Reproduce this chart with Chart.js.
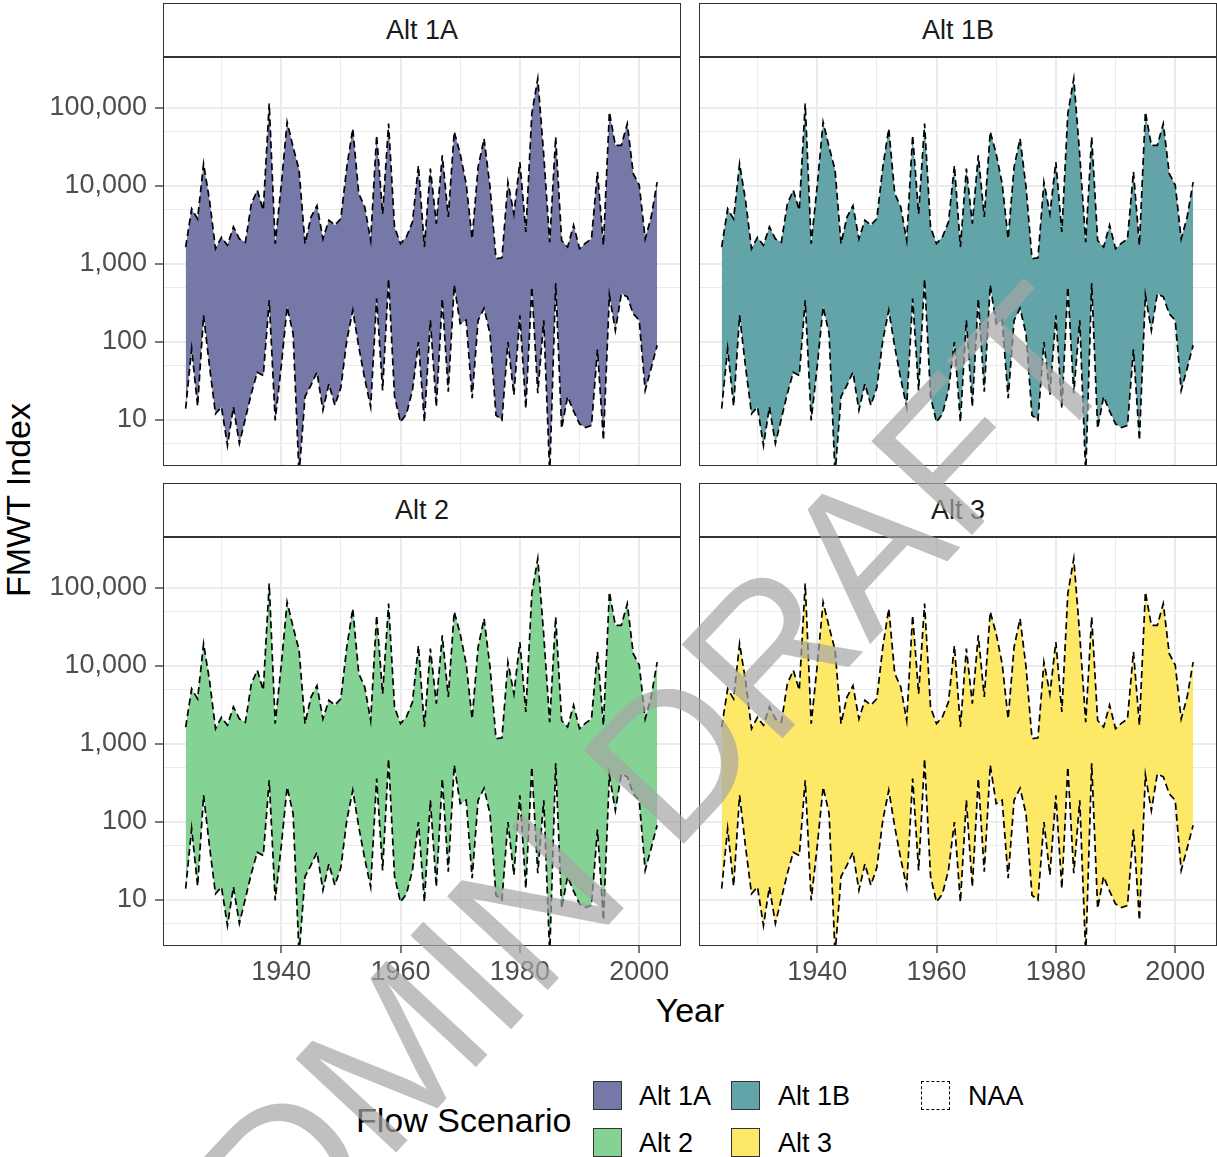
<!DOCTYPE html>
<html lang="en">
<head>
<meta charset="UTF-8">
<title>FMWT Index by Flow Scenario</title>
<script src="https://cdn.jsdelivr.net/npm/chart.js"></script>
<style>
    body {
        margin: 0;
        width: 1217px;
        height: 1157px;
        position: relative;
        overflow: hidden;
        background: white;
        font-family: 'Liberation Sans', Arial, sans-serif;
    }
    canvas { position: absolute; }
    .strip {
        position: absolute;
        box-sizing: border-box;
        width: 518px;
        height: 55px;
        border: 1.3px solid #333;
        border-bottom-width: 2px;
        background: white;
        color: #1a1a1a;
        font-size: 27px;
        line-height: 52px;
        text-align: center;
    }
    .frame {
        position: absolute;
        box-sizing: border-box;
        width: 518px;
        height: 409px;
        border: 1.3px solid #333;
        pointer-events: none;
    }
    .lbl {
        position: absolute;
        white-space: nowrap;
        line-height: 1;
        transform: translateY(-50%);
        color: #000;
    }
    .key {
        position: absolute;
        box-sizing: border-box;
        width: 29px;
        height: 29px;
        border: 1.5px solid #333;
    }
    .watermark {
        position: absolute;
        left: 611px;
        top: 821px;
        transform: translate(-50%, -50%) rotate(-47deg);
        font-size: 200px;
        line-height: 1;
        white-space: nowrap;
        color: rgba(165, 165, 165, 0.7);
        pointer-events: none;
    }
</style>
</head>
<body>

<!-- y axis title, x axis title -->
<div class="lbl" style="font-size:34px; left:18px; top:500px; transform: translate(-50%, -50%) rotate(-90deg);">FMWT Index</div>
<div class="lbl" style="font-size:34px; left:690px; top:1010px; transform: translate(-50%, -50%);">Year</div>

<!-- legend -->
<div class="lbl" style="font-size:34px; left:356px; top:1120px;">Flow Scenario</div>
<div class="key" style="left:593px; top:1081px; background:#7679A8;"></div>
<div class="lbl" style="font-size:27px; left:639px; top:1096px;">Alt 1A</div>
<div class="key" style="left:731px; top:1081px; background:#62A4A8;"></div>
<div class="lbl" style="font-size:27px; left:778px; top:1096px;">Alt 1B</div>
<div class="key" style="left:921px; top:1081px; border:1.5px dashed #000;"></div>
<div class="lbl" style="font-size:27px; left:968px; top:1096px;">NAA</div>
<div class="key" style="left:593px; top:1128px; background:#85D394;"></div>
<div class="lbl" style="font-size:27px; left:639px; top:1143px;">Alt 2</div>
<div class="key" style="left:731px; top:1128px; background:#FDE868;"></div>
<div class="lbl" style="font-size:27px; left:778px; top:1143px;">Alt 3</div>

<script>
// data (all four scenario ribbons follow the NAA envelope)
var years = [1924, 1925, 1926, 1927, 1928, 1929, 1930, 1931, 1932, 1933,
             1934, 1935, 1936, 1937, 1938, 1939, 1940, 1941, 1942, 1943,
             1944, 1945, 1946, 1947, 1948, 1949, 1950, 1951, 1952, 1953,
             1954, 1955, 1956, 1957, 1958, 1959, 1960, 1961, 1962, 1963,
             1964, 1965, 1966, 1967, 1968, 1969, 1970, 1971, 1972, 1973,
             1974, 1975, 1976, 1977, 1978, 1979, 1980, 1981, 1982, 1983,
             1984, 1985, 1986, 1987, 1988, 1989, 1990, 1991, 1992, 1993,
             1994, 1995, 1996, 1997, 1998, 1999, 2000, 2001, 2002, 2003];

var naaHigh = [1650, 5100, 3800, 19300, 6500, 1570, 2200, 1740, 3000, 2100,
               1900, 5900, 8800, 4900, 114000, 1820, 10000, 66000, 31600, 16000,
               1820, 4000, 5600, 2100, 3640, 3150, 3800, 17500, 54300, 8000,
               5400, 2000, 44700, 4400, 63000, 2950, 1820, 2230, 3450, 18300,
               1650, 16700, 3300, 24700, 4000, 49500, 25900, 10700, 2100, 17500,
               40500, 9700, 1170, 1200, 11200, 4400, 20300, 2570, 84500, 238000,
               25000, 1900, 42500, 2000, 1650, 3150, 1570, 1850, 2100, 15200,
               1740, 88800, 33200, 33200, 63000, 14400, 10300, 2100, 4000, 11200];

var naaLow = [14, 82, 15, 220, 48, 12, 14.7, 4.7, 14.7, 5,
              10.4, 21.8, 41, 37, 342, 9.9, 48, 281, 128, 2,
              20, 28, 41, 13.3, 29, 15.5, 26, 105, 255, 87,
              34, 14.7, 360, 24, 645, 20, 9.4, 12, 24, 100,
              9.4, 190, 14.7, 360, 23, 535, 172, 190, 19, 190,
              270, 127, 11.5, 10, 100, 21, 220, 14, 507, 22,
              190, 2, 565, 7.8, 20, 13, 8.9, 8, 8.5, 80,
              5.5, 400, 140, 415, 380, 230, 190, 24, 46, 91];

var scenarios = ['Alt 1A', 'Alt 1B', 'Alt 2', 'Alt 3'];
var scenarioColors = ['#7679A8', '#62A4A8', '#85D394', '#FDE868'];

var yGrid = [5, 10, 50, 100, 500, 1000, 5000, 10000, 50000, 100000];
var xGrid = [1930, 1940, 1950, 1960, 1970, 1980, 1990, 2000];

// facet layout
var panels = [
    { left: 163, top: 57,  yLabels: true,  xLabels: false },
    { left: 699, top: 57,  yLabels: false, xLabels: false },
    { left: 163, top: 537, yLabels: true,  xLabels: true },
    { left: 699, top: 537, yLabels: false, xLabels: true }
];

function isMajorY(v) { return String(v).charAt(0) === '1'; }
function isMajorX(v) { return v % 20 === 0; }

function toPoints(arr) {
    return years.map(function(y, k) { return { x: y, y: arr[k] }; });
}

function makePanel(p, i) {
    var leftW = p.yLabels ? 163 : 0;
    var bottomH = p.xLabels ? 46 : 0;

    var strip = document.createElement('div');
    strip.className = 'strip';
    strip.style.left = p.left + 'px';
    strip.style.top = (p.top - 54) + 'px';
    strip.textContent = scenarios[i];
    document.body.appendChild(strip);

    var cv = document.createElement('canvas');
    cv.width = leftW + 518;
    cv.height = 408 + bottomH;
    cv.style.left = (p.left - leftW) + 'px';
    cv.style.top = p.top + 'px';
    document.body.appendChild(cv);

    var frame = document.createElement('div');
    frame.className = 'frame';
    frame.style.left = p.left + 'px';
    frame.style.top = p.top + 'px';
    document.body.appendChild(frame);

    var hi = toPoints(naaHigh);
    var lo = toPoints(naaLow);

    new Chart(cv.getContext('2d'), {
        type: 'line',
        data: {
            datasets: [
                { label: scenarios[i] + ' low', data: lo, borderWidth: 0, pointRadius: 0, fill: false, order: 2 },
                { label: scenarios[i], data: hi, borderWidth: 0, pointRadius: 0, fill: '-1', backgroundColor: scenarioColors[i], order: 2 },
                { label: 'NAA high', data: hi, borderColor: '#000', borderWidth: 1.7, borderDash: [7, 4], pointRadius: 0, fill: false, order: 1 },
                { label: 'NAA low', data: lo, borderColor: '#000', borderWidth: 1.7, borderDash: [7, 4], pointRadius: 0, fill: false, order: 1 }
            ]
        },
        options: {
            responsive: false,
            animation: false,
            layout: { padding: 0 },
            plugins: {
                legend: { display: false },
                tooltip: { enabled: false }
            },
            scales: {
                x: {
                    type: 'linear',
                    bounds: 'data',
                    min: 1920.2,
                    max: 2007,
                    afterBuildTicks: function(s) {
                        s.ticks = xGrid.map(function(v) { return { value: v }; });
                    },
                    afterFit: function(s) {
                        s.height = bottomH;
                        s.paddingLeft = 0;
                        s.paddingRight = 0;
                    },
                    border: { display: false },
                    grid: {
                        color: '#EBEBEB',
                        lineWidth: function(c) { return c.tick && isMajorX(c.tick.value) ? 2 : 1; },
                        drawTicks: p.xLabels,
                        tickLength: 8,
                        tickWidth: 1.3,
                        tickColor: function(c) { return c.tick && isMajorX(c.tick.value) ? '#333' : 'rgba(0,0,0,0)'; }
                    },
                    ticks: {
                        display: p.xLabels,
                        autoSkip: false,
                        maxRotation: 0,
                        padding: 3,
                        color: '#4D4D4D',
                        font: { family: "'Liberation Sans', Arial, sans-serif", size: 27 },
                        callback: function(v) { return isMajorX(v) ? String(v) : ''; }
                    }
                },
                y: {
                    type: 'logarithmic',
                    bounds: 'data',
                    min: 2.649,
                    max: 450700,
                    afterBuildTicks: function(s) {
                        s.ticks = yGrid.map(function(v) { return { value: v }; });
                    },
                    afterFit: function(s) {
                        s.width = leftW;
                        s.paddingTop = 0;
                        s.paddingBottom = 0;
                    },
                    border: { display: false },
                    grid: {
                        color: '#EBEBEB',
                        lineWidth: function(c) { return c.tick && isMajorY(c.tick.value) ? 2 : 1; },
                        drawTicks: p.yLabels,
                        tickLength: 8,
                        tickWidth: 1.3,
                        tickColor: function(c) { return c.tick && isMajorY(c.tick.value) ? '#333' : 'rgba(0,0,0,0)'; }
                    },
                    ticks: {
                        display: p.yLabels,
                        autoSkip: false,
                        padding: 8,
                        color: '#4D4D4D',
                        font: { family: "'Liberation Sans', Arial, sans-serif", size: 27 },
                        callback: function(v) { return isMajorY(v) ? Number(v).toLocaleString('en-US') : ''; }
                    }
                }
            }
        }
    });
}

panels.forEach(makePanel);

var wm = document.createElement('div');
wm.className = 'watermark';
wm.textContent = 'ADMIN DRAFT';
document.body.appendChild(wm);
</script>
</body>
</html>
